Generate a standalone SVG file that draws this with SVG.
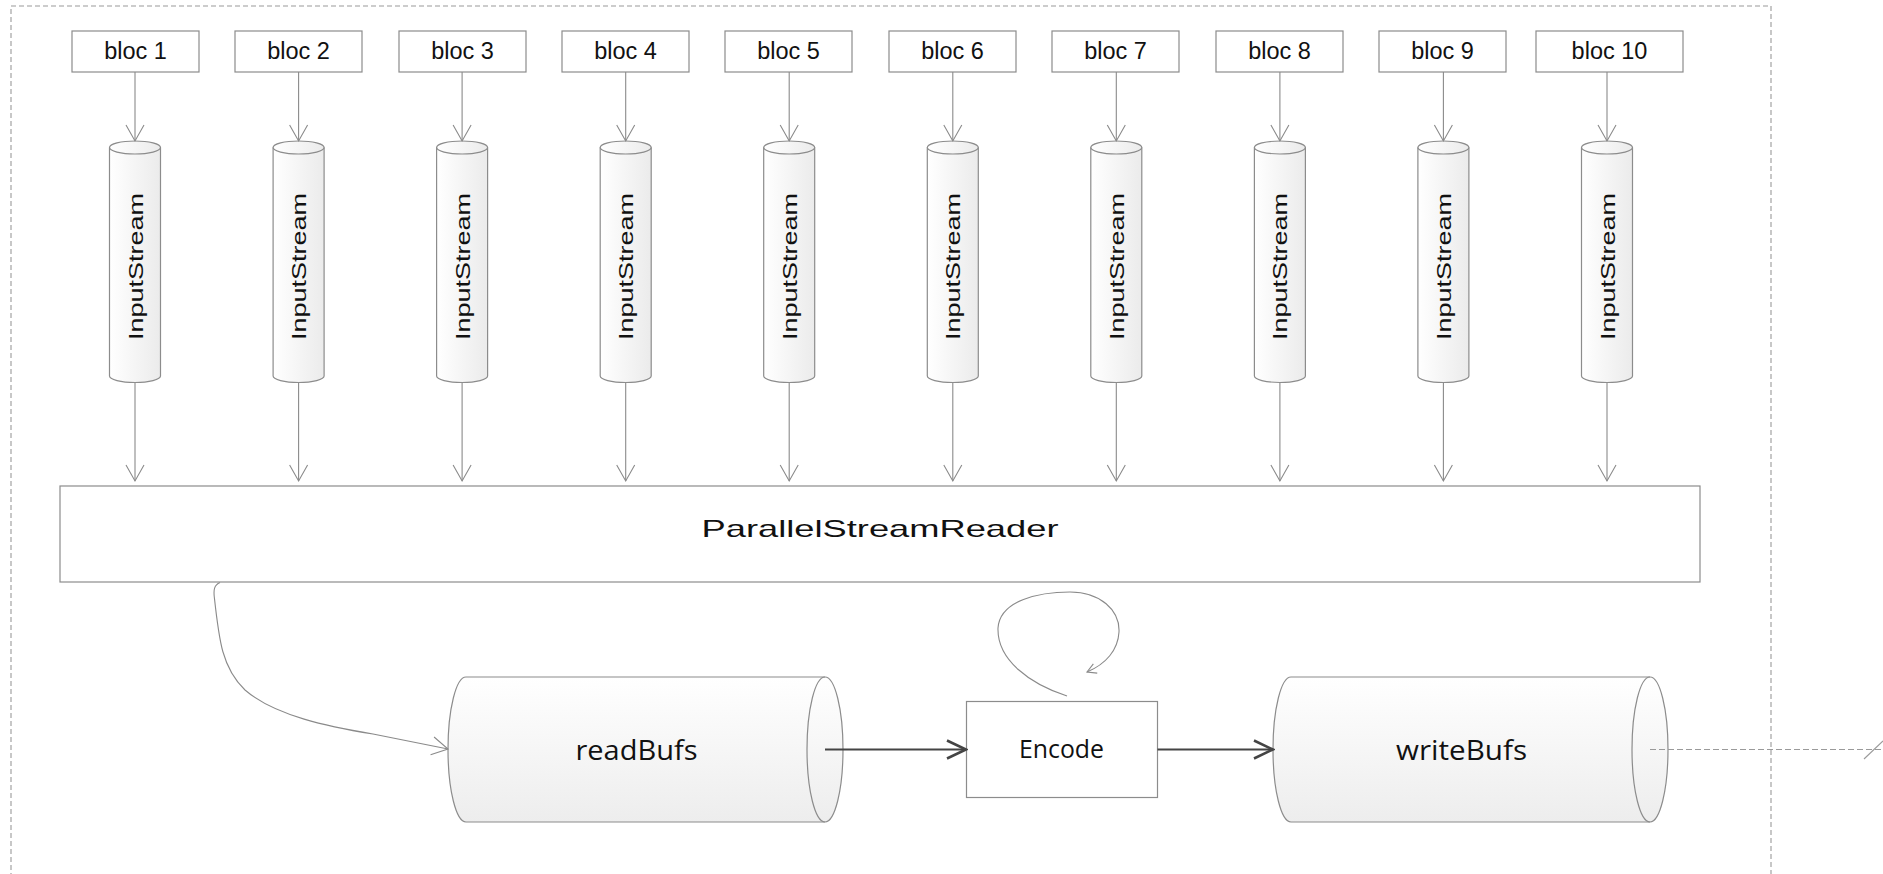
<svg xmlns="http://www.w3.org/2000/svg" width="1883" height="874" viewBox="0 0 1883 874">
  <defs>
    <style>
      .box { fill: #ffffff; stroke: #8c8c8c; stroke-width: 1.2; }
      .cyl { stroke: #8c8c8c; stroke-width: 1.2; }
      .vcyl { fill: url(#vGrad); }
      .hcyl { fill: url(#hGrad); }
      .lbl { font-family: "Liberation Sans", Arial, sans-serif; fill: #111; }
      .cal { font-family: "Open Sans", "Liberation Sans", sans-serif; fill: #111; }
      .thin { fill: none; stroke: #8a8a8a; stroke-width: 1.1; }
      .thick { fill: none; stroke: #444; stroke-width: 2.2; }
      .dash { fill: none; stroke: #9a9a9a; stroke-width: 1.1; stroke-dasharray: 6 3; }
    </style>
    <linearGradient id="vGrad" x1="0" y1="0" x2="1" y2="0">
      <stop offset="0" stop-color="#ffffff"/>
      <stop offset="1" stop-color="#ebebeb"/>
    </linearGradient>
    <linearGradient id="hGrad" x1="0" y1="0" x2="0" y2="1">
      <stop offset="0" stop-color="#ffffff"/>
      <stop offset="1" stop-color="#ededed"/>
    </linearGradient>
    <marker id="openV" viewBox="0 0 20 20" refX="18" refY="10" markerWidth="20" markerHeight="20" markerUnits="userSpaceOnUse" orient="auto">
      <path d="M2,1 L18,10 L2,19" fill="none" stroke="#8a8a8a" stroke-width="1.1"/>
    </marker>
    <marker id="boldV" viewBox="0 0 22 22" refX="20" refY="11" markerWidth="22" markerHeight="22" markerUnits="userSpaceOnUse" orient="auto">
      <path d="M1,2 L20,11 L1,20" fill="none" stroke="#444" stroke-width="2.5"/>
    </marker>
    <marker id="smallV" viewBox="0 0 12 12" refX="10" refY="6" markerWidth="12" markerHeight="12" markerUnits="userSpaceOnUse" orient="auto">
      <path d="M1,1 L10,6 L1,11" fill="none" stroke="#8a8a8a" stroke-width="1.1"/>
    </marker>
  </defs>

  <rect width="1883" height="874" fill="#ffffff"/>

  <!-- frame -->
  <rect id="frame" x="11" y="6" width="1760" height="900" fill="none" stroke="#9a9a9a" stroke-width="1.1" stroke-dasharray="5 3"/>

  <!-- block sources -->
  <g id="bloc1"><rect class="box" x="72" y="31" width="127" height="41"/><text class="lbl" x="135.5" y="58.5" font-size="23.5" text-anchor="middle">bloc 1</text></g>
  <g id="bloc2"><rect class="box" x="235" y="31" width="127" height="41"/><text class="lbl" x="298.5" y="58.5" font-size="23.5" text-anchor="middle">bloc 2</text></g>
  <g id="bloc3"><rect class="box" x="399" y="31" width="127" height="41"/><text class="lbl" x="462.5" y="58.5" font-size="23.5" text-anchor="middle">bloc 3</text></g>
  <g id="bloc4"><rect class="box" x="562" y="31" width="127" height="41"/><text class="lbl" x="625.5" y="58.5" font-size="23.5" text-anchor="middle">bloc 4</text></g>
  <g id="bloc5"><rect class="box" x="725" y="31" width="127" height="41"/><text class="lbl" x="788.5" y="58.5" font-size="23.5" text-anchor="middle">bloc 5</text></g>
  <g id="bloc6"><rect class="box" x="889" y="31" width="127" height="41"/><text class="lbl" x="952.5" y="58.5" font-size="23.5" text-anchor="middle">bloc 6</text></g>
  <g id="bloc7"><rect class="box" x="1052" y="31" width="127" height="41"/><text class="lbl" x="1115.5" y="58.5" font-size="23.5" text-anchor="middle">bloc 7</text></g>
  <g id="bloc8"><rect class="box" x="1216" y="31" width="127" height="41"/><text class="lbl" x="1279.5" y="58.5" font-size="23.5" text-anchor="middle">bloc 8</text></g>
  <g id="bloc9"><rect class="box" x="1379" y="31" width="127" height="41"/><text class="lbl" x="1442.5" y="58.5" font-size="23.5" text-anchor="middle">bloc 9</text></g>
  <g id="bloc10"><rect class="box" x="1536" y="31" width="147" height="41"/><text class="lbl" x="1609.5" y="58.5" font-size="23.5" text-anchor="middle">bloc 10</text></g>

  <!-- input streams (vertical cylinders) -->
  <g id="stream1" transform="translate(135,0)">
    <path class="cyl vcyl" d="M-25.5,147.5 A25.5,6.5 0 0 1 25.5,147.5 L25.5,376 A25.5,6.5 0 0 1 -25.5,376 Z"/>
    <path class="cyl" fill="none" d="M-25.5,147.5 A25.5,6.5 0 0 0 25.5,147.5"/>
    <text class="lbl" font-size="21" text-anchor="middle" textLength="147" lengthAdjust="spacingAndGlyphs" transform="translate(7.5,266.5) rotate(-90)">InputStream</text>
  </g>
  <g id="stream2" transform="translate(298.6,0)">
    <path class="cyl vcyl" d="M-25.5,147.5 A25.5,6.5 0 0 1 25.5,147.5 L25.5,376 A25.5,6.5 0 0 1 -25.5,376 Z"/>
    <path class="cyl" fill="none" d="M-25.5,147.5 A25.5,6.5 0 0 0 25.5,147.5"/>
    <text class="lbl" font-size="21" text-anchor="middle" textLength="147" lengthAdjust="spacingAndGlyphs" transform="translate(7.5,266.5) rotate(-90)">InputStream</text>
  </g>
  <g id="stream3" transform="translate(462.1,0)">
    <path class="cyl vcyl" d="M-25.5,147.5 A25.5,6.5 0 0 1 25.5,147.5 L25.5,376 A25.5,6.5 0 0 1 -25.5,376 Z"/>
    <path class="cyl" fill="none" d="M-25.5,147.5 A25.5,6.5 0 0 0 25.5,147.5"/>
    <text class="lbl" font-size="21" text-anchor="middle" textLength="147" lengthAdjust="spacingAndGlyphs" transform="translate(7.5,266.5) rotate(-90)">InputStream</text>
  </g>
  <g id="stream4" transform="translate(625.7,0)">
    <path class="cyl vcyl" d="M-25.5,147.5 A25.5,6.5 0 0 1 25.5,147.5 L25.5,376 A25.5,6.5 0 0 1 -25.5,376 Z"/>
    <path class="cyl" fill="none" d="M-25.5,147.5 A25.5,6.5 0 0 0 25.5,147.5"/>
    <text class="lbl" font-size="21" text-anchor="middle" textLength="147" lengthAdjust="spacingAndGlyphs" transform="translate(7.5,266.5) rotate(-90)">InputStream</text>
  </g>
  <g id="stream5" transform="translate(789.2,0)">
    <path class="cyl vcyl" d="M-25.5,147.5 A25.5,6.5 0 0 1 25.5,147.5 L25.5,376 A25.5,6.5 0 0 1 -25.5,376 Z"/>
    <path class="cyl" fill="none" d="M-25.5,147.5 A25.5,6.5 0 0 0 25.5,147.5"/>
    <text class="lbl" font-size="21" text-anchor="middle" textLength="147" lengthAdjust="spacingAndGlyphs" transform="translate(7.5,266.5) rotate(-90)">InputStream</text>
  </g>
  <g id="stream6" transform="translate(952.8,0)">
    <path class="cyl vcyl" d="M-25.5,147.5 A25.5,6.5 0 0 1 25.5,147.5 L25.5,376 A25.5,6.5 0 0 1 -25.5,376 Z"/>
    <path class="cyl" fill="none" d="M-25.5,147.5 A25.5,6.5 0 0 0 25.5,147.5"/>
    <text class="lbl" font-size="21" text-anchor="middle" textLength="147" lengthAdjust="spacingAndGlyphs" transform="translate(7.5,266.5) rotate(-90)">InputStream</text>
  </g>
  <g id="stream7" transform="translate(1116.3,0)">
    <path class="cyl vcyl" d="M-25.5,147.5 A25.5,6.5 0 0 1 25.5,147.5 L25.5,376 A25.5,6.5 0 0 1 -25.5,376 Z"/>
    <path class="cyl" fill="none" d="M-25.5,147.5 A25.5,6.5 0 0 0 25.5,147.5"/>
    <text class="lbl" font-size="21" text-anchor="middle" textLength="147" lengthAdjust="spacingAndGlyphs" transform="translate(7.5,266.5) rotate(-90)">InputStream</text>
  </g>
  <g id="stream8" transform="translate(1279.9,0)">
    <path class="cyl vcyl" d="M-25.5,147.5 A25.5,6.5 0 0 1 25.5,147.5 L25.5,376 A25.5,6.5 0 0 1 -25.5,376 Z"/>
    <path class="cyl" fill="none" d="M-25.5,147.5 A25.5,6.5 0 0 0 25.5,147.5"/>
    <text class="lbl" font-size="21" text-anchor="middle" textLength="147" lengthAdjust="spacingAndGlyphs" transform="translate(7.5,266.5) rotate(-90)">InputStream</text>
  </g>
  <g id="stream9" transform="translate(1443.4,0)">
    <path class="cyl vcyl" d="M-25.5,147.5 A25.5,6.5 0 0 1 25.5,147.5 L25.5,376 A25.5,6.5 0 0 1 -25.5,376 Z"/>
    <path class="cyl" fill="none" d="M-25.5,147.5 A25.5,6.5 0 0 0 25.5,147.5"/>
    <text class="lbl" font-size="21" text-anchor="middle" textLength="147" lengthAdjust="spacingAndGlyphs" transform="translate(7.5,266.5) rotate(-90)">InputStream</text>
  </g>
  <g id="stream10" transform="translate(1607,0)">
    <path class="cyl vcyl" d="M-25.5,147.5 A25.5,6.5 0 0 1 25.5,147.5 L25.5,376 A25.5,6.5 0 0 1 -25.5,376 Z"/>
    <path class="cyl" fill="none" d="M-25.5,147.5 A25.5,6.5 0 0 0 25.5,147.5"/>
    <text class="lbl" font-size="21" text-anchor="middle" textLength="147" lengthAdjust="spacingAndGlyphs" transform="translate(7.5,266.5) rotate(-90)">InputStream</text>
  </g>

  <!-- reader -->
  <g id="reader">
    <rect class="box" x="60" y="486" width="1640" height="96"/>
    <text class="lbl" x="880" y="537" font-size="24" text-anchor="middle" textLength="357" lengthAdjust="spacingAndGlyphs">ParallelStreamReader</text>
  </g>

  <!-- buffers and encoder -->
  <g id="readBufs">
    <path class="cyl hcyl" d="M466,677 L825,677 A18,72.5 0 0 1 825,822 L466,822 A18,72.5 0 0 1 466,677 Z"/>
    <path class="cyl" fill="none" d="M825,677 A18,72.5 0 0 0 825,822"/>
    <text class="cal" x="636.5" y="760" font-size="27" text-anchor="middle" textLength="122" lengthAdjust="spacingAndGlyphs">readBufs</text>
  </g>
  <g id="encode">
    <rect class="box" x="966.5" y="701.5" width="191" height="96"/>
    <text class="cal" x="1061.5" y="758" font-size="25" text-anchor="middle" textLength="85" lengthAdjust="spacingAndGlyphs">Encode</text>
  </g>
  <g id="writeBufs">
    <path class="cyl hcyl" d="M1291,677 L1650,677 A18,72.5 0 0 1 1650,822 L1291,822 A18,72.5 0 0 1 1291,677 Z"/>
    <path class="cyl" fill="none" d="M1650,677 A18,72.5 0 0 0 1650,822"/>
    <text class="cal" x="1461.5" y="759.5" font-size="27" text-anchor="middle" textLength="131" lengthAdjust="spacingAndGlyphs">writeBufs</text>
  </g>

  <!-- connectors -->
  <g id="connectors">
    <line class="thin" x1="135" y1="72" x2="135" y2="141" marker-end="url(#openV)"/>
    <line class="thin" x1="298.6" y1="72" x2="298.6" y2="141" marker-end="url(#openV)"/>
    <line class="thin" x1="462.1" y1="72" x2="462.1" y2="141" marker-end="url(#openV)"/>
    <line class="thin" x1="625.7" y1="72" x2="625.7" y2="141" marker-end="url(#openV)"/>
    <line class="thin" x1="789.2" y1="72" x2="789.2" y2="141" marker-end="url(#openV)"/>
    <line class="thin" x1="952.8" y1="72" x2="952.8" y2="141" marker-end="url(#openV)"/>
    <line class="thin" x1="1116.3" y1="72" x2="1116.3" y2="141" marker-end="url(#openV)"/>
    <line class="thin" x1="1279.9" y1="72" x2="1279.9" y2="141" marker-end="url(#openV)"/>
    <line class="thin" x1="1443.4" y1="72" x2="1443.4" y2="141" marker-end="url(#openV)"/>
    <line class="thin" x1="1607" y1="72" x2="1607" y2="141" marker-end="url(#openV)"/>

    <line class="thin" x1="135" y1="383" x2="135" y2="481" marker-end="url(#openV)"/>
    <line class="thin" x1="298.6" y1="383" x2="298.6" y2="481" marker-end="url(#openV)"/>
    <line class="thin" x1="462.1" y1="383" x2="462.1" y2="481" marker-end="url(#openV)"/>
    <line class="thin" x1="625.7" y1="383" x2="625.7" y2="481" marker-end="url(#openV)"/>
    <line class="thin" x1="789.2" y1="383" x2="789.2" y2="481" marker-end="url(#openV)"/>
    <line class="thin" x1="952.8" y1="383" x2="952.8" y2="481" marker-end="url(#openV)"/>
    <line class="thin" x1="1116.3" y1="383" x2="1116.3" y2="481" marker-end="url(#openV)"/>
    <line class="thin" x1="1279.9" y1="383" x2="1279.9" y2="481" marker-end="url(#openV)"/>
    <line class="thin" x1="1443.4" y1="383" x2="1443.4" y2="481" marker-end="url(#openV)"/>
    <line class="thin" x1="1607" y1="383" x2="1607" y2="481" marker-end="url(#openV)"/>

    <!-- reader to readBufs -->
    <path class="thin" d="M220,582.5 C214,585 213.5,590 214.3,597 C219,640 222,668 245,690 C275,716 330,727 373,734 L448,749" marker-end="url(#openV)"/>

    <!-- pipeline -->
    <line class="thick" x1="825" y1="749.5" x2="966" y2="749.5" marker-end="url(#boldV)"/>
    <line class="thick" x1="1157.5" y1="749.5" x2="1273" y2="749.5" marker-end="url(#boldV)"/>

    <!-- encode self loop -->
    <path class="thin" d="M1067,696 C1030,684 997,660 998,628 C1000,600 1040,592 1070,592 C1100,592 1120,610 1119,632 C1118,650 1106,664 1087,672" marker-end="url(#smallV)"/>

    <!-- output leaving the frame -->
    <line class="dash" x1="1650" y1="749.5" x2="1883" y2="749.5"/>
    <line x1="1864" y1="759" x2="1883" y2="741" stroke="#9a9a9a" stroke-width="1.1"/>
  </g>
</svg>
